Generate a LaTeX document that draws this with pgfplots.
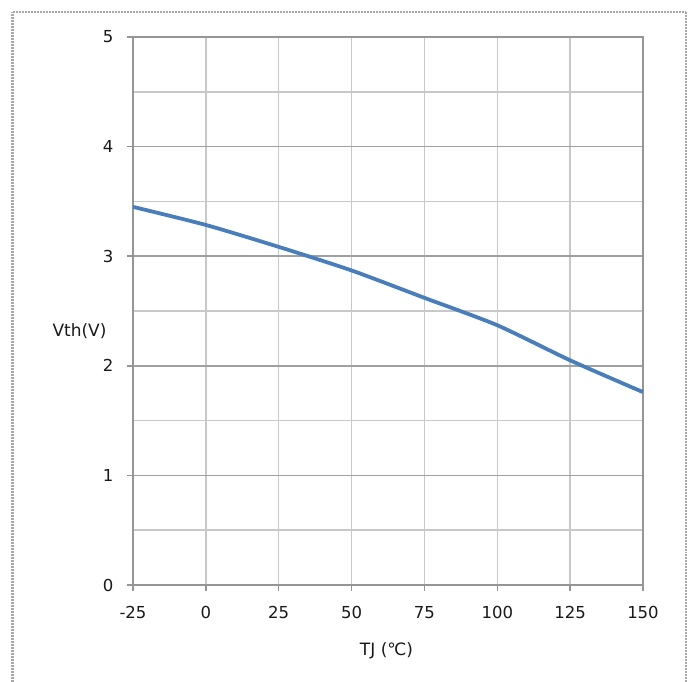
\documentclass[border=0pt]{standalone}
\usepackage{pgfplots}
\pgfplotsset{compat=1.18}
\usepackage{fontspec}
\setmainfont{DejaVu Sans}

\definecolor{curveblue}{HTML}{4A7EBB}
\definecolor{axisgray}{HTML}{959595}
\definecolor{gridmajor}{HTML}{A0A0A0}
\definecolor{gridminor}{HTML}{C8C8C8}
\definecolor{framegray}{HTML}{A8A8A8}

\begin{document}
\begin{tikzpicture}[x=1pt,y=1pt]
  % page and outer frame
  \useasboundingbox (0,0) rectangle (694,682);
  \fill[white] (0,0) rectangle (694,682);
  \draw[framegray, line width=2.2pt, dash pattern=on 1pt off 0.5pt] (12.5,-5) -- (12.5,670) -- (686,670) -- (686,-5);

  \begin{axis}[
    at={(133pt,97pt)}, anchor=south west,
    scale only axis, width=510pt, height=548pt,
    xmin=-25, xmax=150, ymin=0, ymax=5,
    xtick={-25,0,...,150},
    ytick={0,1,...,5},
    minor ytick={0.5,1.5,...,4.5},
    axis line style={draw=axisgray, line width=1.6pt},
    xmajorgrids, ymajorgrids, yminorgrids,
    x grid style={gridminor, line width=1.5pt},
    y grid style={gridmajor, line width=1.5pt},
    minor y grid style={gridminor, line width=1.5pt},
    tick style={axisgray, line width=1.5pt},
    major tick length=6pt,
    minor tick length=0pt,
    tick align=outside,
    xtick pos=bottom, ytick pos=left,
    /pgf/number format/assume math mode=true,
    ticklabel style={font=\fontsize{16.5}{19}\selectfont, text=black!90},
    xticklabel style={yshift=-12pt},
    yticklabel style={xshift=-10pt},
    clip=false,
  ]
    % gate threshold voltage vs junction temperature
    \addplot[curveblue, line width=3.8pt, smooth, tension=0.4] coordinates {
      (-25,3.45) (0,3.285) (25,3.085) (50,2.87) (75,2.62) (100,2.37) (125,2.05) (150,1.76)
    };
    \node[font=\fontsize{17}{19}\selectfont, text=black!90, anchor=east] at (axis cs:-25,2.32) [xshift=-23pt] {Vth(V)};
    \node[font=\fontsize{17}{19}\selectfont, text=black!90] at (axis cs:62,0) [yshift=-66pt] {TJ (℃)};
  \end{axis}
\end{tikzpicture}
\end{document}
